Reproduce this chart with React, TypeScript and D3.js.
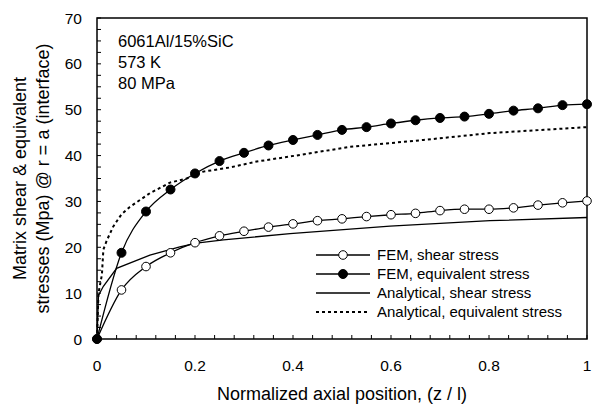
import React from "react";
import * as d3 from "d3";

const femX = [0, 0.05, 0.1, 0.15, 0.2, 0.25, 0.3, 0.35, 0.4, 0.45, 0.5, 0.55, 0.6, 0.65, 0.7, 0.75, 0.8, 0.85, 0.9, 0.95, 1.0];
const femShear = [0, 10.7, 15.8, 18.8, 21.0, 22.5, 23.5, 24.4, 25.1, 25.8, 26.2, 26.7, 27.1, 27.4, 28.0, 28.3, 28.3, 28.6, 29.2, 29.7, 30.1];
const femEquiv = [0, 18.8, 27.8, 32.6, 36.1, 38.8, 40.6, 42.2, 43.4, 44.5, 45.6, 46.2, 47.0, 47.7, 48.2, 48.5, 49.1, 49.8, 50.3, 51.0, 51.2];

const anaShearX = [0, 0.003, 0.013, 0.04, 0.108, 0.169, 0.203, 0.258, 0.394, 0.598, 0.802, 1.0];
const anaShearY = [0, 9.5, 11.5, 15.4, 18.3, 20.1, 20.9, 21.6, 23.0, 24.6, 25.8, 26.5];

const anaEquivX = [0, 0.003, 0.01, 0.013, 0.02, 0.033, 0.05, 0.067, 0.108, 0.149, 0.183, 0.217, 0.271, 0.326, 0.394, 0.516, 0.666, 0.802, 1.0];
const anaEquivY = [0, 10, 14, 19.5, 21.5, 24.5, 27.2, 28.8, 31.8, 34.1, 35.0, 36.5, 37.4, 38.7, 39.8, 41.9, 43.4, 44.9, 46.2];

const xTicks = [0, 0.2, 0.4, 0.6, 0.8, 1];
const xTickLabels = ["0", "0.2", "0.4", "0.6", "0.8", "1"];
const yTicks = [0, 10, 20, 30, 40, 50, 60, 70];

const annotations = ["6061Al/15%SiC", "573 K", "80 MPa"];
const legendLabels = ["FEM, shear stress", "FEM, equivalent stress", "Analytical, shear stress", "Analytical, equivalent stress"];
const yTitle = ["Matrix shear & equivalent", "stresses (Mpa) @ r = a (interface)"];
const xTitle = "Normalized axial position, (z / l)";

const W = 600, H = 406;
const L = 97, R = 587, T = 18, B = 339;
const FONT = "Liberation Sans, Arial, sans-serif";

export default function App() {
  const x = d3.scaleLinear().domain([0, 1]).range([L, R]);
  const y = d3.scaleLinear().domain([0, 70]).range([B, T]);

  const smooth = d3.line<[number, number]>().x(d => x(d[0])).y(d => y(d[1])).curve(d3.curveMonotoneX);
  const straight = d3.line<[number, number]>().x(d => x(d[0])).y(d => y(d[1]));

  const shearPts = femX.map((v, i) => [v, femShear[i]] as [number, number]);
  const equivPts = femX.map((v, i) => [v, femEquiv[i]] as [number, number]);
  const aShearPts = anaShearX.map((v, i) => [v, anaShearY[i]] as [number, number]);
  const aEquivPts = anaEquivX.map((v, i) => [v, anaEquivY[i]] as [number, number]);

  const xMinor = d3.range(0, 1.0001, 0.04);
  const yMinor = d3.range(0, 70.001, 2.5);

  const legX0 = 316, legX1 = 370, legTextX = 377;
  const legY = [255, 274, 293, 312];

  return (
    <svg width={W} height={H} style={{ position: "absolute", left: 0, top: 0 }} fontFamily={FONT}>
      <rect x={0} y={0} width={W} height={H} fill="#fff" />
      {/* ticks */}
      {xMinor.map((t, i) => (
        <line key={"xt" + i} x1={x(t)} x2={x(t)} y1={B} y2={B - 4} stroke="#000" strokeWidth={1} />
      ))}
      {yMinor.map((t, i) => (
        <line key={"yt" + i} x1={L} x2={L + 4} y1={y(t)} y2={y(t)} stroke="#000" strokeWidth={1} />
      ))}
      {/* frame */}
      <rect x={L} y={T} width={R - L} height={B - T} fill="none" stroke="#000" strokeWidth={1.5} />

      {/* tick labels */}
      {xTicks.map((t, i) => (
        <text key={"xl" + i} x={x(t)} y={371} textAnchor="middle" fontSize={15.5}>{xTickLabels[i]}</text>
      ))}
      {yTicks.map((t, i) => (
        <text key={"yl" + i} x={82} y={y(t) + 5.5} textAnchor="end" fontSize={15.5}>{t}</text>
      ))}

      {/* titles */}
      <text x={(L + R) / 2} y={400} textAnchor="middle" fontSize={18}>{xTitle}</text>
      <text transform={`translate(26,${(T + B) / 2}) rotate(-90)`} textAnchor="middle" fontSize={18}>{yTitle[0]}</text>
      <text transform={`translate(49,${(T + B) / 2}) rotate(-90)`} textAnchor="middle" fontSize={18}>{yTitle[1]}</text>

      {/* annotations */}
      {annotations.map((a, i) => (
        <text key={"an" + i} x={118} y={47 + i * 21} fontSize={16.5}>{a}</text>
      ))}

      {/* series */}
      <path d={straight(aEquivPts) || ""} fill="none" stroke="#000" strokeWidth={2} strokeDasharray="3,3" />
      <path d={straight(aShearPts) || ""} fill="none" stroke="#000" strokeWidth={1.3} />
      <path d={smooth(shearPts) || ""} fill="none" stroke="#000" strokeWidth={1.3} />
      <path d={smooth(equivPts) || ""} fill="none" stroke="#000" strokeWidth={1.3} />
      {shearPts.map((p, i) => (
        <circle key={"os" + i} cx={x(p[0])} cy={y(p[1])} r={4.3} fill="#fff" stroke="#000" strokeWidth={1} />
      ))}
      {equivPts.map((p, i) => (
        <circle key={"fe" + i} cx={x(p[0])} cy={y(p[1])} r={4.5} fill="#000" stroke="#000" strokeWidth={1} />
      ))}

      {/* legend */}
      <line x1={legX0} x2={legX1} y1={legY[0]} y2={legY[0]} stroke="#000" strokeWidth={1.3} />
      <circle cx={(legX0 + legX1) / 2} cy={legY[0]} r={4.3} fill="#fff" stroke="#000" strokeWidth={1} />
      <line x1={legX0} x2={legX1} y1={legY[1]} y2={legY[1]} stroke="#000" strokeWidth={1.3} />
      <circle cx={(legX0 + legX1) / 2} cy={legY[1]} r={4.5} fill="#000" stroke="#000" strokeWidth={1} />
      <line x1={legX0} x2={legX1} y1={legY[2]} y2={legY[2]} stroke="#000" strokeWidth={1.3} />
      <line x1={legX0} x2={legX1} y1={legY[3]} y2={legY[3]} stroke="#000" strokeWidth={2} strokeDasharray="3,3" />
      {legendLabels.map((l, i) => (
        <text key={"lg" + i} x={legTextX} y={legY[i] + 5} fontSize={15}>{l}</text>
      ))}
    </svg>
  );
}
